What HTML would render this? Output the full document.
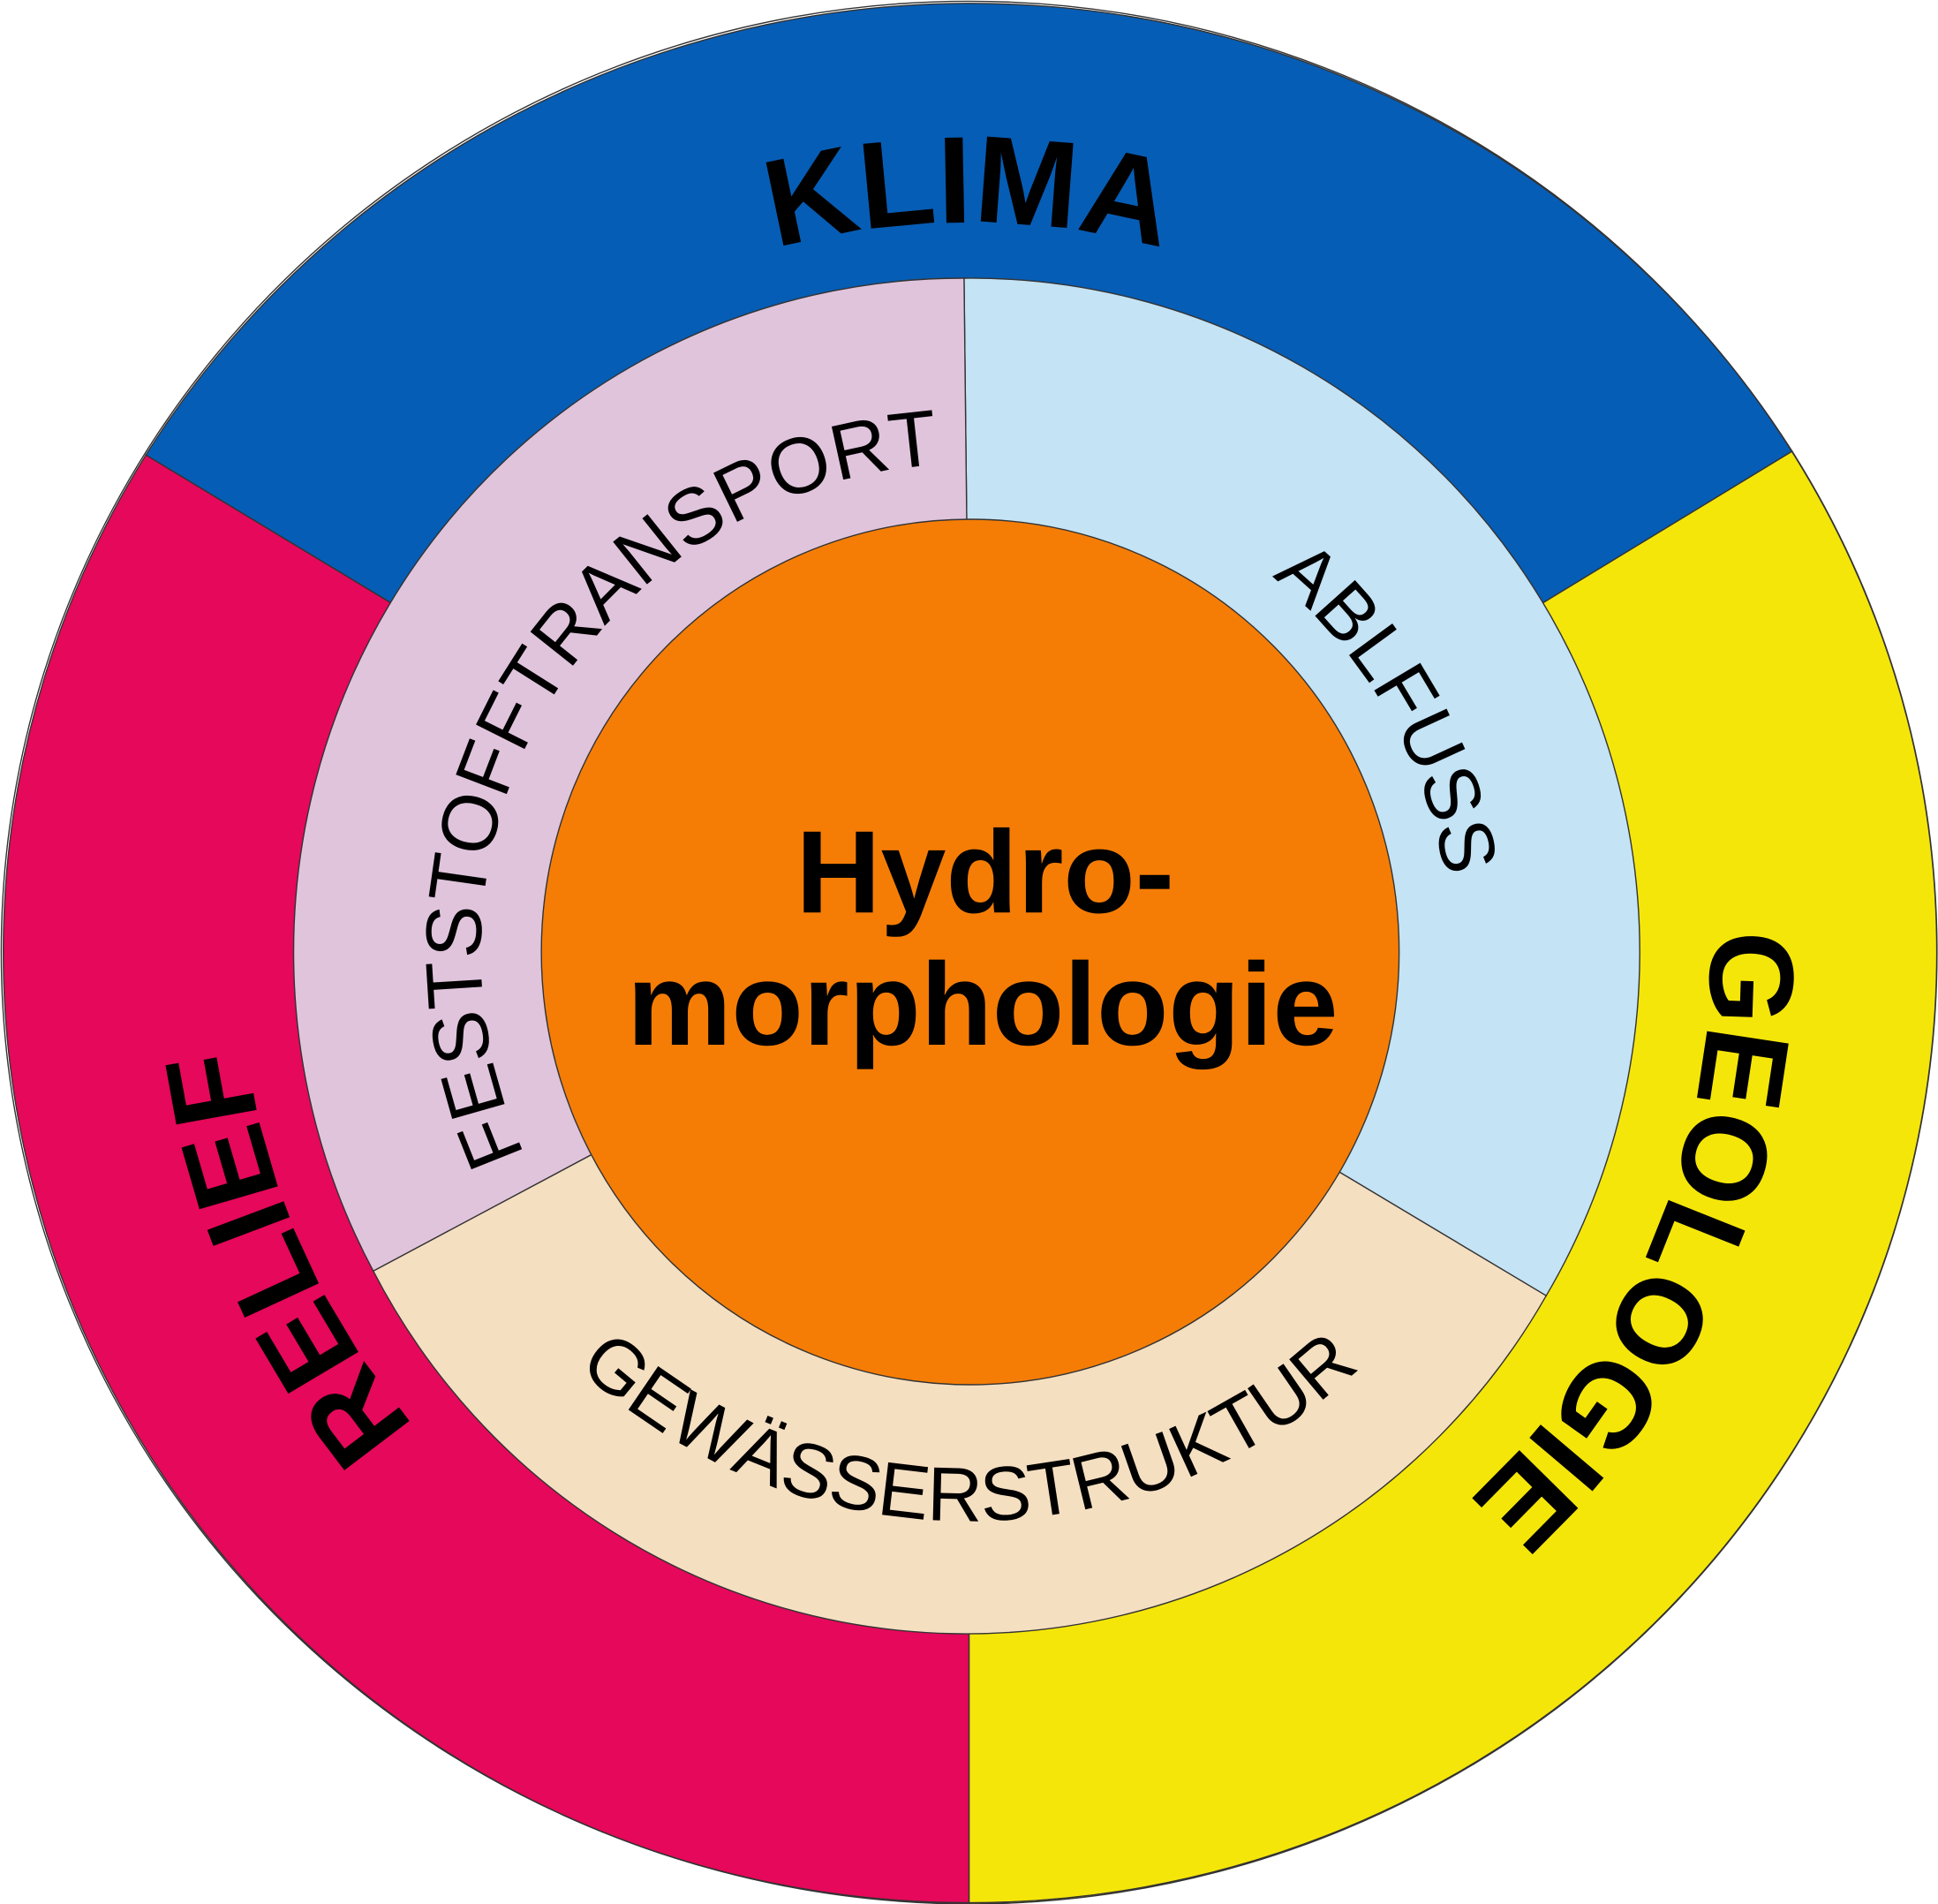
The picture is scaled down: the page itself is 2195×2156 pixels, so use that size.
<!DOCTYPE html>
<html><head><meta charset="utf-8"><style>html,body{margin:0;padding:0;background:#fff}svg{display:block}</style></head>
<body>
<svg width="2195" height="2156" viewBox="0 0 1568 1540" preserveAspectRatio="none" xmlns="http://www.w3.org/2000/svg" font-family="Liberation Sans, Arial, sans-serif">
<defs>
<path id="pK" d="M 194,770 A 590 590 0 0 1 1374,770"/>
<path id="pG" d="M 1110.8,266.8 A 600 600 0 0 1 649,1354.6"/>
<path id="pR" d="M 926.7,1342.5 A 590 590 0 0 1 454.1,280.9"/>
<path id="pF" d="M 557.4,1093.6 A 395 395 0 0 1 963.3,418.1"/>
<path id="pA" d="M 650.6,403.5 A 390 390 0 0 1 1034.7,1068.7"/>
<path id="pW" d="M 326.1,850.7 A 466 466 0 0 0 1241.9,850.7"/>
</defs>
<path d="M784,770 L118,368 A784 770 0 0 1 1450,365 Z" fill="#065db5" stroke="#333" stroke-width="1"/>
<path d="M784,770 L1450,365 A784 770 0 0 1 784,1540 Z" fill="#f5e60a" stroke="#333" stroke-width="1"/>
<path d="M784,770 L784,1540 A784 770 0 0 1 118,368 Z" fill="#e6085a" stroke="#333" stroke-width="1"/>
<ellipse cx="784" cy="770" rx="783" ry="769" fill="none" stroke="#333" stroke-width="1"/>
<path d="M786,770 L780,225 A541 545 0 0 1 1251,1048 Z" fill="#c4e3f5" stroke="#333" stroke-width="1"/>
<path d="M786,770 L1251,1048 A541 545 0 0 1 302,1028 Z" fill="#f5dfc1" stroke="#333" stroke-width="1"/>
<path d="M786,770 L302,1028 A541 545 0 0 1 780,225 Z" fill="#e0c4dc" stroke="#333" stroke-width="1"/>
<ellipse cx="785" cy="770" rx="347" ry="350" fill="#f57d06" stroke="#333" stroke-width="1"/>
<text font-size="100" font-weight="bold" fill="#000"><textPath href="#pK" startOffset="50%" text-anchor="middle">KLIMA</textPath></text>
<text font-size="97" font-weight="bold" fill="#000"><textPath href="#pG" startOffset="50%" text-anchor="middle">GEOLOGIE</textPath></text>
<text font-size="96" font-weight="bold" fill="#000"><textPath href="#pR" startOffset="50%" text-anchor="middle">RELIEF</textPath></text>
<text font-size="64" fill="#000"><textPath href="#pF" startOffset="50%" text-anchor="middle">FESTSTOFFTRANSPORT</textPath></text>
<text font-size="63" fill="#000"><textPath href="#pA" startOffset="50%" text-anchor="middle">ABLFUSS</textPath></text>
<text font-size="62" fill="#000"><textPath href="#pW" startOffset="50%" text-anchor="middle">GEWÄSSERSTRUKTUR</textPath></text>
<text x="797" y="738" font-size="95" font-weight="bold" text-anchor="middle">Hydro-</text>
<text x="795" y="845" font-size="95" font-weight="bold" text-anchor="middle">morphologie</text>
</svg>
</body></html>
